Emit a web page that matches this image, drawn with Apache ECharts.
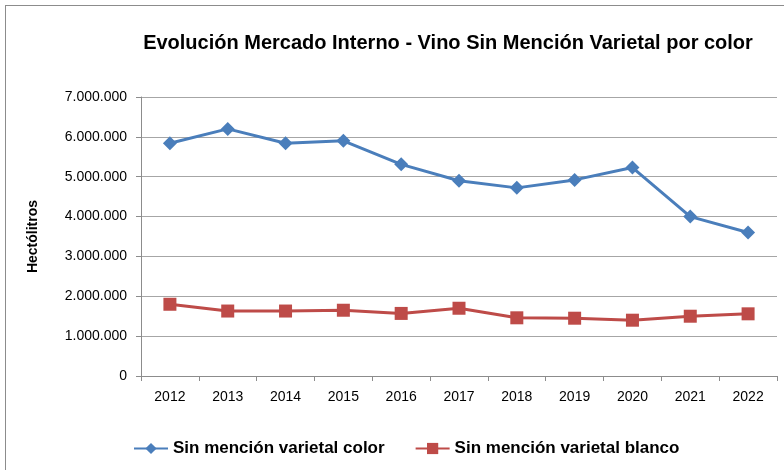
<!DOCTYPE html>
<html>
<head>
<meta charset="utf-8">
<script src="https://cdn.jsdelivr.net/npm/echarts@6/dist/echarts.min.js"></script>
<style>
	html, body { margin: 0; padding: 0; background: #fff; }
	#chart { width: 784px; height: 470px; }
	#frame { position: absolute; left: 5px; top: 5px; width: 790px; height: 480px; border: 1px solid #8c8c8c; pointer-events: none; }
</style>
</head>
<body>
<div id="chart"></div>
<div id="frame"></div>
<script>
// 年份（x轴）
const years = ['2012', '2013', '2014', '2015', '2016', '2017', '2018', '2019', '2020', '2021', '2022'];
// 数据（百升）
const colorValues = [5840000, 6200000, 5840000, 5900000, 5310000, 4900000, 4720000, 4920000, 5230000, 4000000, 3600000];
const blancoValues = [1800000, 1630000, 1630000, 1650000, 1570000, 1700000, 1460000, 1450000, 1400000, 1500000, 1560000];
const seriesNames = ['Sin mención varietal color', 'Sin mención varietal blanco'];

const chart = echarts.init(document.getElementById('chart'));
const font = 'Liberation Sans, sans-serif';

function fmt(v) {
	return String(v).replace(/\B(?=(\d{3})+(?!\d))/g, '.');
}

const option = {
	animation: false,
	title: {
		text: 'Evolución Mercado Interno - Vino Sin Mención Varietal por color',
		left: 443,
		textAlign: 'center',
		top: 28,
		textStyle: {
			fontFamily: font,
			fontSize: 20,
			fontWeight: 'bold',
			color: '#000'
		}
	},
	grid: {
		left: 141,
		right: 7,
		top: 97,
		bottom: 94
	},
	legend: {
		bottom: 8,
		left: 128,
		itemWidth: 34,
		itemHeight: 14,
		itemGap: 30,
		textStyle: {
			fontFamily: font,
			fontSize: 17,
			fontWeight: 'bold',
			color: '#000'
		},
		data: seriesNames
	},
	xAxis: {
		type: 'category',
		data: years,
		boundaryGap: true,
		axisLine: { lineStyle: { color: '#8c8c8c' } },
		axisTick: { show: true, length: 5, lineStyle: { color: '#8c8c8c' } },
		axisLabel: {
			margin: 14,
			fontFamily: font,
			fontSize: 14,
			color: '#000'
		}
	},
	yAxis: {
		type: 'value',
		min: 0,
		max: 7000000,
		interval: 1000000,
		name: 'Hectólitros',
		nameLocation: 'middle',
		nameGap: 101,
		nameTextStyle: {
			fontFamily: font,
			fontSize: 14,
			fontWeight: 'bold',
			color: '#000'
		},
		axisLine: { show: true, lineStyle: { color: '#8c8c8c' } },
		axisTick: { show: true, length: 5, lineStyle: { color: '#8c8c8c' } },
		axisLabel: {
			margin: 14,
			fontFamily: font,
			fontSize: 14,
			color: '#000',
			formatter: fmt
		},
		splitLine: { lineStyle: { color: '#a6a6a6', width: 1 } }
	},
	series: [{
			name: seriesNames[0],
			type: 'line',
			data: colorValues,
			symbol: 'diamond',
			symbolSize: 14,
			itemStyle: { color: '#4a7ebb' },
			lineStyle: { color: '#4a7ebb', width: 3 }
		},
		{
			name: seriesNames[1],
			type: 'line',
			data: blancoValues,
			symbol: 'rect',
			symbolSize: 13,
			itemStyle: { color: '#be4b48' },
			lineStyle: { color: '#be4b48', width: 3 }
		}
	]
};
chart.setOption(option);
</script>
</body>
</html>
